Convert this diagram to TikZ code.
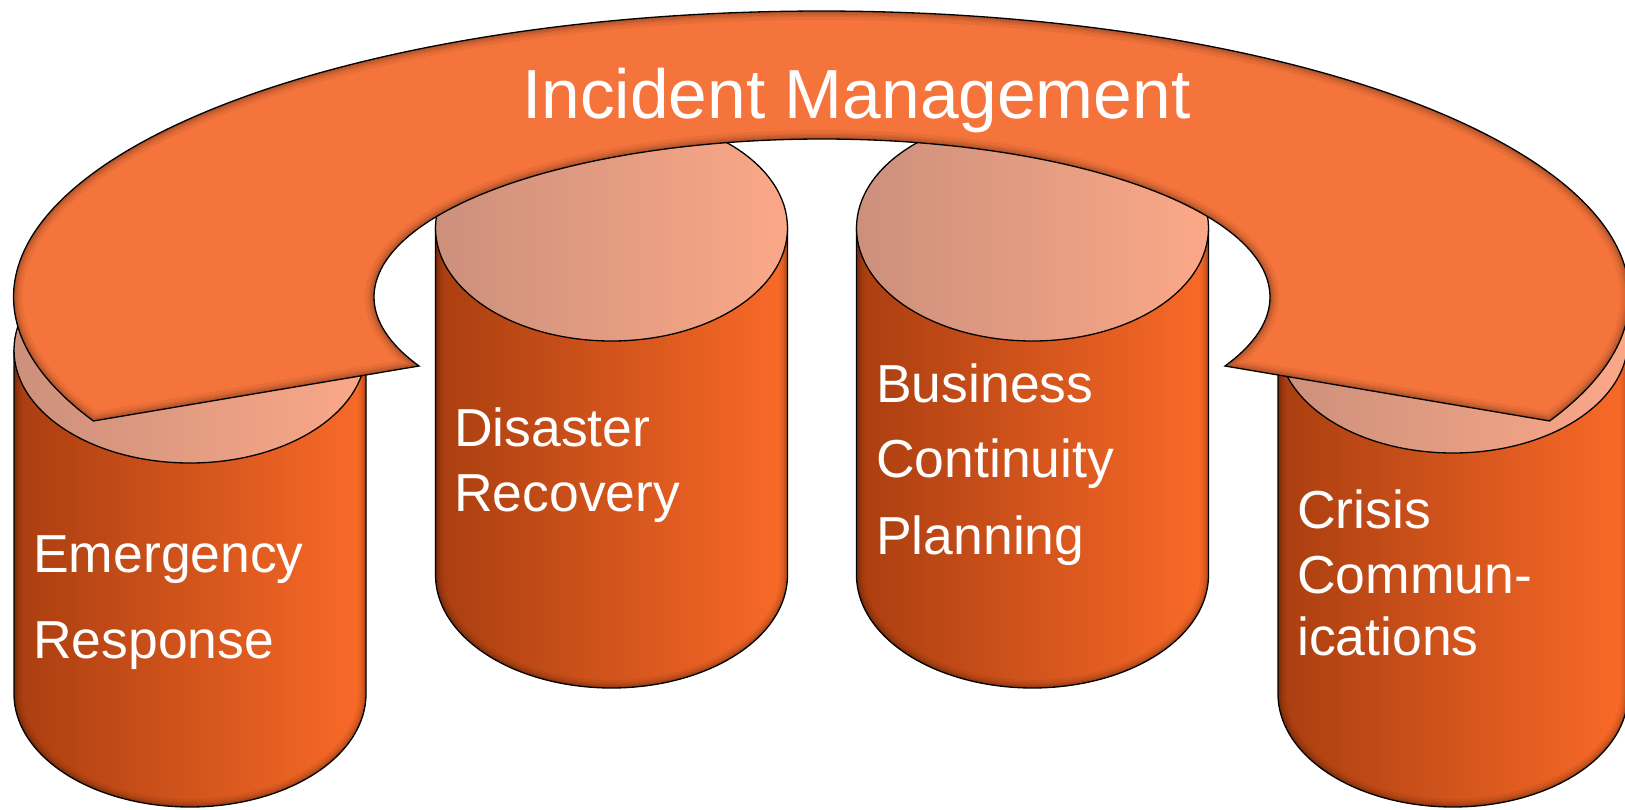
\documentclass[tikz,border=0pt]{standalone}
\usepackage{fontspec}
\setmainfont{Liberation Sans}
\definecolor{archc}{RGB}{245,116,60}
\definecolor{cylL}{RGB}{170,62,16}
\definecolor{cylR}{RGB}{250,106,40}
\definecolor{topL}{RGB}{204,144,124}
\definecolor{topR}{RGB}{251,168,136}
% cylinder body: #1 cx, #2 rx, #3 top cy, #4 bottom cy, #5 ry
\newcommand\cylbodypath[5]{(#1-#2,#3) -- (#1-#2,#4) -- plot[domain=0:180,samples=90,variable=\t] ({#1-#2*cos(\t)},{#4+#5*sin(\t)}) -- (#1+#2,#3) -- cycle}
\newcommand\mycyl[5]{%
  \path[cylside] \cylbodypath{#1}{#2}{#3}{#4}{#5};
  \begin{scope}
    \clip \cylbodypath{#1}{#2}{#3}{#4}{#5};
    \foreach \w/\o in {16/0.05,11/0.06,7/0.08,4/0.1}
      \draw[line width=\w pt,black,opacity=\o] \cylbodypath{#1}{#2}{#3}{#4}{#5};
  \end{scope}
  \draw[line width=1.3pt] \cylbodypath{#1}{#2}{#3}{#4}{#5};
  \path[cyltop] (#1,#3) ellipse[x radius=#2pt,y radius=#5pt];
}
\newcommand\archpath{plot[domain=154.31:385.69,samples=240,variable=\t] ({821.5+808*cos(\t)},{297+286*sin(\t)}) -- plot[domain=154.1:385.9,samples=200,variable=\t] ({822-448*cos(\t)},{297+158*sin(\t)}) -- cycle}
\tikzset{
  cylside/.style={left color=cylL,right color=cylR},
  cyltop/.style={left color=topL,right color=topR,draw=black,line width=1.3pt},
  archstyle/.style={fill=archc},
  lbl/.style={text=white,inner sep=0pt,anchor=base west,font=\fontsize{53.5}{60}\selectfont},
  ttl/.style={text=white,inner sep=0pt,anchor=base west,font=\fontsize{69.5}{80}\selectfont},
}
\begin{document}
\begin{tikzpicture}[x=1pt,y=-1pt]
\useasboundingbox (0,0) rectangle (1625,809);
\fill[white] (0,0) rectangle (1625,809);
% cylinders
\mycyl{190}{176}{350}{694}{113}
\mycyl{611.5}{176}{228}{575}{113}
\mycyl{1032.5}{176}{228}{575}{113}
\mycyl{1453}{175}{340}{694}{113}
% labels
\node[lbl] (er1) at (33,572) {Emergency};
\node[lbl] (er2) at (33,658) {Response};
\node[lbl] (dr1) at (454,446) {Disaster};
\node[lbl] (dr2) at (454,511) {Recovery};
\node[lbl] (bc1) at (876,402) {Business};
\node[lbl] (bc2) at (876,477) {Continuity};
\node[lbl] (bc3) at (876,554) {Planning};
\node[lbl] (cc1) at (1297,528) {Crisis};
\node[lbl] (cc2) at (1297,593) {Commun-};
\node[lbl] (cc3) at (1297,655) {ications};
% arch
\path[archstyle] \archpath;
\begin{scope}
  \clip \archpath;
  \foreach \w/\o in {18/0.05,12/0.06,8/0.08,4/0.1}
    \draw[line width=\w pt,black,opacity=\o] \archpath;
\end{scope}
\draw[line width=1.3pt,line join=miter] \archpath;
\node[ttl] (title) at (522,118) {Incident Management};
\end{tikzpicture}
\end{document}
